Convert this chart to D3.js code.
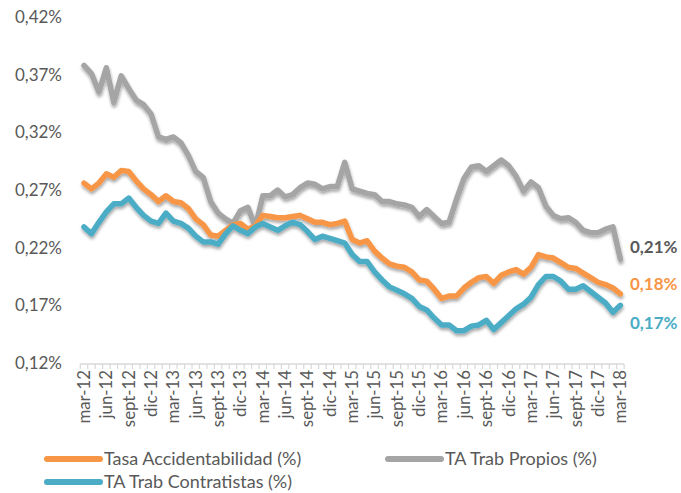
<html>
<script src='https://d3js.org/d3.v7.min.js'></script>
<style>
 body {margin:0; background:#fff;}
 text {font-family: Lato, 'Open Sans', sans-serif; fill:#595959;}
</style>
<body onload='init()'>
<svg width=681 height=493>
</svg>
<script>
// monthly values, mar-12 .. mar-18
var meses = ["mar","abr","may","jun","jul","ago","sept","oct","nov","dic","ene","feb"];
var tasa = [0.276,0.271,0.276,0.284,0.281,0.287,0.286,0.278,0.271,0.266,0.260,0.265,0.260,0.259,0.254,0.245,0.240,0.231,
	0.230,0.235,0.240,0.241,0.236,0.239,0.248,0.247,0.246,0.246,0.247,0.248,0.245,0.242,0.242,0.240,0.241,0.243,
	0.227,0.224,0.226,0.217,0.211,0.206,0.204,0.203,0.199,0.192,0.191,0.184,0.176,0.178,0.178,0.185,0.190,0.194,
	0.195,0.189,0.196,0.199,0.201,0.197,0.203,0.214,0.212,0.211,0.207,0.203,0.202,0.198,0.194,0.190,0.188,0.185,0.180];
var propios = [0.378,0.371,0.355,0.376,0.346,0.369,0.358,0.348,0.344,0.336,0.316,0.314,0.316,0.311,0.300,0.286,0.281,0.260,
	0.250,0.245,0.241,0.252,0.255,0.238,0.265,0.265,0.270,0.264,0.266,0.272,0.276,0.275,0.271,0.273,0.273,0.294,
	0.271,0.269,0.267,0.266,0.260,0.260,0.258,0.257,0.255,0.247,0.253,0.247,0.241,0.242,0.262,0.280,0.290,0.291,
	0.286,0.291,0.296,0.291,0.282,0.269,0.277,0.272,0.256,0.248,0.245,0.246,0.242,0.235,0.233,0.233,0.236,0.238,0.210];
var contratistas = [0.238,0.232,0.242,0.251,0.258,0.258,0.263,0.255,0.248,0.243,0.241,0.250,0.243,0.241,0.237,0.230,0.225,0.225,
	0.223,0.232,0.239,0.235,0.232,0.238,0.241,0.238,0.235,0.239,0.242,0.240,0.234,0.227,0.230,0.228,0.226,0.224,
	0.214,0.208,0.208,0.199,0.192,0.186,0.183,0.180,0.176,0.169,0.166,0.159,0.153,0.153,0.148,0.148,0.152,0.153,
	0.157,0.149,0.155,0.161,0.167,0.171,0.177,0.188,0.195,0.195,0.191,0.184,0.184,0.187,0.182,0.177,0.172,0.164,0.170];
var yTicks = [0.12,0.17,0.22,0.27,0.32,0.37,0.42];
var seriesNames = ["Tasa Accidentabilidad (%)","TA Trab Propios (%)","TA Trab Contratistas (%)"];
var colors = ["#F79646","#A5A5A5","#4BACC6"];
var endLabels = ["0,18%","0,21%","0,17%"];

function init() {
	var categories = [];
	for (var i = 0; i < tasa.length; i++) {
		var m = (2 + i) % 12;
		var yr = 12 + Math.floor((2 + i) / 12);
		categories.push(meses[(m + 10) % 12] + "-" + yr);
	}
	var svg = d3.select("svg");
	var fmt = v => v.toFixed(2).replace(".", ",") + "%";

	var x = d3.scaleLinear().domain([0, tasa.length - 1]).range([84, 620.4]);
	var y = d3.scaleLinear().domain([0.12, 0.42]).range([363, 17]);

	var defs = svg.append("defs");
	var f = defs.append("filter").attr("id", "sh").attr("x", "-5%").attr("y", "-5%").attr("width", "110%").attr("height", "120%");
	f.append("feDropShadow").attr("dx", 0.5).attr("dy", 2.5).attr("stdDeviation", 1.8).attr("flood-color", "#000").attr("flood-opacity", 0.35);

	// y labels
	svg.append("g").selectAll("text").data(yTicks).enter().append("text")
		.attr("x", 62).attr("y", d => y(d)).attr("dy", "0.35em")
		.attr("text-anchor", "end").style("font-size", "17px")
		.text(fmt);

	// x axis line + ticks
	var xa = svg.append("g");
	xa.append("line").attr("x1", x(-0.5)).attr("x2", x(tasa.length - 0.5))
		.attr("y1", 364).attr("y2", 364).attr("stroke", "#D9D9D9").attr("stroke-width", 1.5);
	xa.selectAll("line.t").data(d3.range(tasa.length + 1)).enter().append("line").attr("class", "t")
		.attr("x1", d => x(d - 0.5)).attr("x2", d => x(d - 0.5))
		.attr("y1", 364).attr("y2", 369).attr("stroke", "#D9D9D9").attr("stroke-width", 1.2);
	xa.selectAll("text").data(categories.filter((c, i) => i % 3 == 0)).enter().append("text")
		.attr("transform", (d, i) => "translate(" + x(i * 3) + ",370) rotate(-90)")
		.attr("text-anchor", "end").attr("dy", "0.35em").style("font-size", "16.8px")
		.text(d => d);

	// lines
	var line = d3.line().x((d, i) => x(i)).y(d => y(d));
	var all = [tasa, propios, contratistas];
	var order = [1, 0, 2];
	svg.append("g").attr("filter", "url(#sh)").selectAll("path").data(order).enter().append("path")
		.attr("d", k => line(all[k]))
		.attr("fill", "none").attr("stroke", k => colors[k]).attr("stroke-width", 5.5)
		.attr("stroke-linejoin", "round").attr("stroke-linecap", "round");

	// end labels
	var endY = [284, 247, 323];
	svg.append("g").selectAll("text").data([0, 1, 2]).enter().append("text")
		.attr("x", 630).attr("y", k => endY[k]).attr("dy", "0.35em")
		.style("font-size", "17px").style("font-weight", "bold")
		.style("fill", k => k == 1 ? "#595959" : colors[k])
		.text(k => endLabels[k]);

	// legend
	var leg = [[47, 459], [388, 459], [47, 482]];
	var lg = svg.append("g").selectAll("g").data([0, 1, 2]).enter().append("g")
		.attr("transform", k => "translate(" + leg[k][0] + "," + leg[k][1] + ")");
	lg.append("line").attr("x1", 0).attr("x2", 53).attr("y1", 0).attr("y2", 0)
		.attr("stroke", k => colors[k]).attr("stroke-width", 6).attr("stroke-linecap", "round");
	lg.append("text").attr("x", 57).attr("dy", "0.35em").style("font-size", "18px")
		.text(k => seriesNames[k]);
}
</script>
</body>
</html>
